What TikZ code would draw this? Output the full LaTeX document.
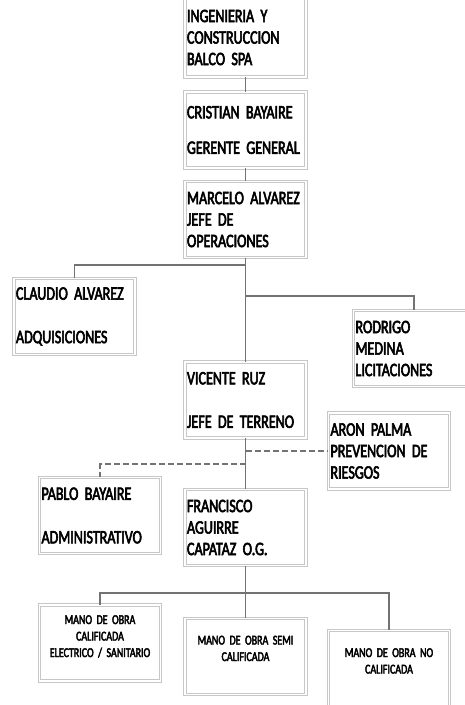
\documentclass[tikz,border=0pt]{standalone}
\usepackage{fontspec}
\newfontfamily\cali[FakeStretch=0.74,FakeBold=3]{Carlito}
\newcommand\cargofont{\cali\fontsize{19}{21.5}\selectfont\spaceskip=0.17em plus 0.05em\relax\hyphenpenalty=10000\relax}
\newcommand\obrafont{\cali\fontsize{13.5}{16.5}\selectfont\spaceskip=0.17em plus 0.05em\relax\hyphenpenalty=10000\relax}

\tikzset{
  cargo/.style={draw=black!22, double=white, double distance=1.3pt, line width=0.9pt,
    minimum width=121pt, minimum height=76pt, text width=117pt, inner xsep=2pt,
    align=left, font=\cargofont},
  obra/.style={cargo, align=center, text height=9pt, text depth=#1, font=\obrafont},
  obra/.default=33pt,
  linea/.style={draw=black!55, line width=1.3pt},
  enlace/.style={linea, dash pattern=on 6pt off 3pt}
}

\begin{document}
\begin{tikzpicture}[x=1pt,y=-1pt]
            \useasboundingbox (0,0) rectangle (464,705);
            % cargos
            \node[cargo, minimum height=79pt] (balco) at (245.5,37.5) {INGENIERIA Y\\CONSTRUCCION\\BALCO SPA};
            \node[cargo] (gerente) at (245.5,130) {CRISTIAN BAYAIRE\\[14pt]GERENTE GENERAL};
            \node[cargo] (operaciones) at (245.5,219.5) {MARCELO ALVAREZ\\JEFE DE\\OPERACIONES};
            \node[cargo] (adquisiciones) at (74.5,316.5) {CLAUDIO ALVAREZ\\[22pt]ADQUISICIONES};
            \node[cargo] (licitaciones) at (414,348.5) {RODRIGO\\MEDINA\\LICITACIONES};
            \node[cargo] (terreno) at (245.5,400) {VICENTE RUZ\\[22pt]JEFE DE TERRENO};
            \node[cargo] (prevencion) at (389,451) {ARON PALMA\\PREVENCION DE\\RIESGOS};
            \node[cargo] (administrativo) at (100,515.5) {PABLO BAYAIRE\\[22pt]ADMINISTRATIVO};
            \node[cargo] (capataz) at (245.5,527.5) {FRANCISCO\\AGUIRRE\\CAPATAZ O.G.};
            \node[obra=47pt] (calificada) at (100,643) {MANO DE OBRA\\CALIFICADA\\ELECTRICO / SANITARIO};
            \node[obra] (semi) at (245.5,656.5) {MANO DE OBRA SEMI\\CALIFICADA};
            \node[obra=32pt] (nocalificada) at (389,668.5) {MANO DE OBRA NO\\CALIFICADA};
            % uniones
            \coordinate (r1) at (245.5,265);
            \coordinate (r2) at (245.5,296);
            \coordinate (d1) at (245.5,451);
            \coordinate (d2) at (245.5,464);
            \coordinate (b1) at (245.5,593);
            \draw[linea] (balco.south) -- (gerente.north);
            \draw[linea] (gerente.south) -- (operaciones.north);
            \draw[linea] (operaciones.south) -- (terreno.north);
            \draw[linea] (r1) -| (adquisiciones.north);
            \draw[linea] (r2) -| (licitaciones.north);
            \draw[linea] (terreno.south) -- (capataz.north);
            \draw[enlace] (d1) -- (prevencion.west);
            \draw[enlace] (d2) -| (administrativo.north);
            \draw[linea] (capataz.south) -- (b1) -- (semi.north);
            \draw[linea] (b1) -| (calificada.north);
            \draw[linea] (b1) -| (nocalificada.north);
            \end{tikzpicture}
\end{document}
